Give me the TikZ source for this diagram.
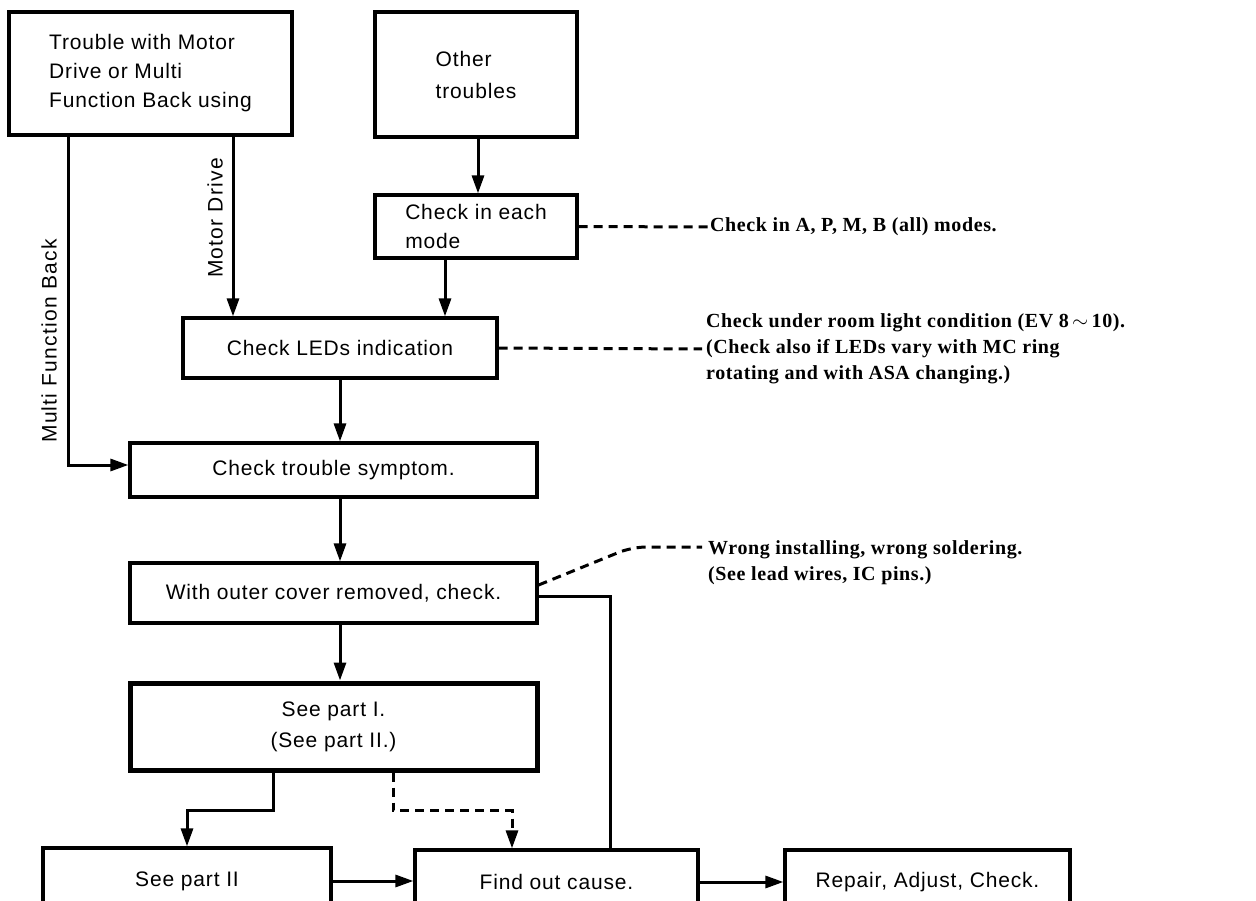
\documentclass[tikz,border=0pt]{standalone}
\usepackage{fontspec}
\setmainfont{Liberation Sans}
\newfontfamily\notefnt{Liberation Serif}
\usetikzlibrary{arrows.meta,calc}
\newcommand\boxfnt{\fontsize{21}{29}\selectfont\addfontfeature{LetterSpace=4}}
\newcommand\notesz{\notefnt\bfseries\fontsize{20}{26}\selectfont\addfontfeature{LetterSpace=3}}
\begin{document}
\begin{tikzpicture}[x=1pt,y=-1pt,
  box/.style={draw,line width=3.2pt,rectangle,inner sep=0pt,align=left,font=\boxfnt},
  thickbox/.style={box,line width=5pt,align=center},
  arr/.style={line width=3pt,-{Triangle[length=18pt,width=12pt]}},
  ln/.style={line width=3pt},
  dsh/.style={line width=3pt,dash pattern=on 9pt off 6pt},
  note/.style={inner sep=0pt,align=left,font=\notesz,anchor=west},
  lbl/.style={inner sep=0pt,rotate=90,font=\fontsize{21}{22}\selectfont\addfontfeature{LetterSpace=6}}]
\useasboundingbox (0,0) rectangle (1256,901);
\clip (0,0) rectangle (1256,901);
\fill[white] (0,0) rectangle (1256,901);

\node[box,minimum width=283pt,minimum height=123pt] (A) at (150.5,73.5)
  {Trouble with Motor\\Drive or Multi\\Function Back using};
\node[box,minimum width=202pt,minimum height=125pt] (B) at (476,74.5)
  {Other\\[3pt]troubles};
\node[box,minimum width=202pt,minimum height=63pt] (C) at (476,226.5)
  {Check in each\\mode};
\node[box,minimum width=314pt,minimum height=60pt] (D) at (340,348) {Check LEDs indication};
\node[box,minimum width=407pt,minimum height=54pt] (E) at (333.5,470) {Check trouble symptom.};
\node[box,minimum width=407pt,minimum height=60pt] (F) at (333.5,593) {With outer cover removed, check.};
\node[thickbox,minimum width=407pt,minimum height=87pt] (G) at (333.5,726.5) {See part I.\\[2pt](See part II.)};
\node[box,minimum width=288pt,minimum height=66pt] (H) at (187,881) {See part II};
\node[box,minimum width=283pt,minimum height=64pt] (I) at (556.5,882) {Find out cause.};
\node[box,minimum width=285pt,minimum height=64pt] (J) at (927.5,882) {Repair, Adjust, Check.};

% connector labels
\node[lbl] (lMF) at (49,341) {Multi Function Back};
\node[lbl] (lMD) at (215,218) {Motor Drive};

% annotations
\node[note] (N1) at (710,227) {Check in A, P, M, B (all) modes.};
\node[note] (N2) at (706,349) {Check under room light condition (EV 8\,$\sim$\,10).\\(Check also if LEDs vary with MC ring\\rotating and with ASA changing.)};
\node[note] (N3) at (708,563) {Wrong installing, wrong soldering.\\(See lead wires, IC pins.)};
\coordinate (bend) at (632,547);

% connectors
\draw[arr] ([xshift=-82.5pt]A.south) |- ([yshift=5pt]E.west);
\draw[arr] ([xshift=-107pt]D.north |- A.south) -- ([xshift=-107pt]D.north);
\draw[arr] ([xshift=2pt]B.south) -- ([xshift=2pt]C.north);
\draw[arr] ([xshift=-31pt]C.south) -- ([xshift=-31pt]C.south |- D.north);
\draw[arr] (D.south) -- (D.south |- E.north);
\draw[arr] ([xshift=6.5pt]E.south) -- ([xshift=6.5pt]F.north);
\draw[arr] ([xshift=6.5pt]F.south) -- ([xshift=6.5pt]G.north);
\draw[arr] ([xshift=-60.5pt]G.south) -- ++(0,38) -| (H.north);
\draw[arr,dsh] ([xshift=59.5pt]G.south) -- ++(0,38) -| ([xshift=-44.5pt]I.north);
\draw[arr] (H.east) -- (H.east -| I.west);
\draw[arr] (I.east) -- (J.west);
\draw[ln] ([yshift=-3pt]F.east) -| ([xshift=53.5pt]I.north);

\draw[dsh] (C.east) -- (N1.west);
\draw[dsh] (D.east) -- ([xshift=-4pt]N2.west);
\draw[dsh,rounded corners=14pt] ([yshift=8pt]F.east) -- (bend) -- ([xshift=-6pt,yshift=16pt]N3.west);
\end{tikzpicture}
\end{document}
